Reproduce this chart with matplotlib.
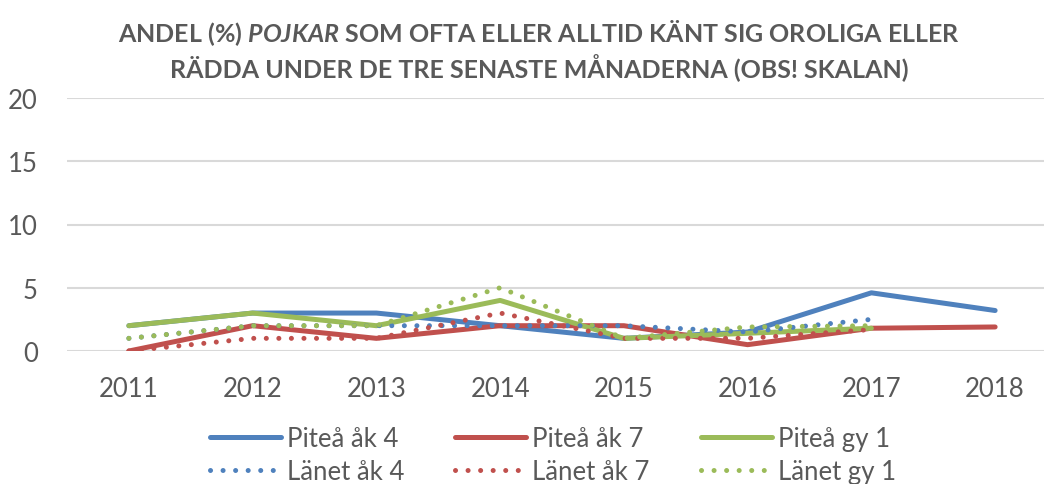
import matplotlib
matplotlib.use("Agg")
import matplotlib.pyplot as plt
import numpy as np

years = ["2011", "2012", "2013", "2014", "2015", "2016", "2017", "2018"]
pitea_ak4 = [2, 3, 3, 2, 1, 1.5, 4.6, 3.2]
pitea_ak7 = [0, 2, 1, 2, 2, 0.5, 1.8, 1.9]
pitea_gy1 = [2, 3, 2, 4, 1, 1.4, 1.8, np.nan]
lanet_ak4 = [1, 2, 2, 2, 2, 1.5, 2.5, np.nan]
lanet_ak7 = [0, 1, 1, 3, 1, 1, 1.7, np.nan]
lanet_gy1 = [1, 2, 2, 5, 1, 1.9, 2.0, np.nan]

series_names = ["Piteå åk 4", "Piteå åk 7", "Piteå gy 1", "Länet åk 4", "Länet åk 7", "Länet gy 1"]
title_l1 = "ANDEL (%) $\\mathbfit{POJKAR}$ SOM OFTA ELLER ALLTID KÄNT SIG OROLIGA ELLER"
title_l2 = "RÄDDA UNDER DE TRE SENASTE MÅNADERNA (OBS! SKALAN)"

plt.rcParams['font.family'] = ['Lato', 'DejaVu Sans']
plt.rcParams['mathtext.fontset'] = 'custom'
plt.rcParams['mathtext.bfit'] = 'Lato:bold:italic'

BLUE = "#4F81BD"
RED = "#C0504D"
GREEN = "#9BBB59"
TXT = "#595959"

W, H = 1044, 485
fig = plt.figure(figsize=(W / 100, H / 100), dpi=100)
ax = fig.add_axes([67 / W, (H - 352) / H, (1057 - 67) / W, (352 - 99) / H])

x = np.arange(len(years))
lw = 3.6
dot = (0, (0.01, 2.5))
data = [pitea_ak4, pitea_ak7, pitea_gy1, lanet_ak4, lanet_ak7, lanet_gy1]
colors = [BLUE, RED, GREEN, BLUE, RED, GREEN]
styles = ["-", "-", "-", dot, dot, dot]
handles = []
for vals, c, ls, name in zip(data, colors, styles, series_names):
    h, = ax.plot(x, vals, color=c, lw=lw, linestyle=ls, solid_capstyle='round',
                 dash_capstyle='round', solid_joinstyle='round', label=name)
    handles.append(h)

ax.set_xlim(-0.5, len(years) - 0.5)
ax.set_ylim(0, 20)
ax.set_yticks([0, 5, 10, 15, 20])
ax.set_xticks(x)
ax.set_xticklabels(years)
ax.yaxis.grid(True, color="#D9D9D9", lw=1.5)
ax.set_axisbelow(True)
for s in ax.spines.values():
    s.set_visible(False)
ax.tick_params(axis='both', length=0, labelsize=18.5, labelcolor=TXT)
ax.tick_params(axis='y', pad=21)
ax.tick_params(axis='x', pad=18)

fig.text(539 / W, 1 - 33 / H, title_l1, ha='center', va='center', fontsize=18,
         fontweight='bold', color=TXT)
fig.text(539 / W, 1 - 68 / H, title_l2, ha='center', va='center', fontsize=18,
         fontweight='bold', color=TXT)

fs = 18.5
fpx = fs * 100 / 72
order = [0, 3, 1, 4, 2, 5]
leg = fig.legend([handles[i] for i in order], [series_names[i] for i in order],
                 ncol=3, loc='center left', bbox_to_anchor=(210 / W, 1 - 456 / H),
                 frameon=False, fontsize=fs, handlelength=71 / fpx,
                 handletextpad=6 / fpx, columnspacing=1.98, labelspacing=0.3,
                 borderpad=0, borderaxespad=0)
for t in leg.get_texts():
    t.set_color(TXT)

fig.savefig("out.png", dpi=100)
